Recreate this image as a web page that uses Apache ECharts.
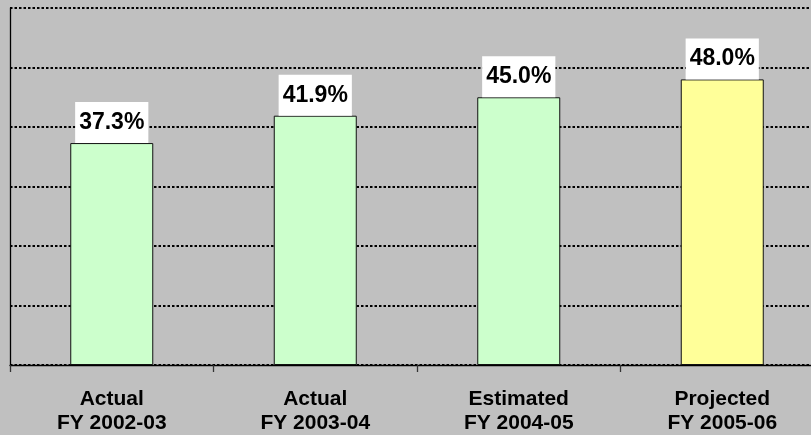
<!DOCTYPE html>
<html>
<head>
<meta charset="utf-8">
<script src="https://cdn.jsdelivr.net/npm/echarts@6/dist/echarts.min.js"></script>
<style>
html,body{margin:0;padding:0;background:#C0C0C0;overflow:hidden;width:811px;height:435px;}
#chart{width:830px;height:435px;}
</style>
</head>
<body>
<div id="chart"></div>
<script>
// Data
const stages = ['Actual', 'Actual', 'Estimated', 'Projected'];
const fiscalYears = ['FY 2002-03', 'FY 2003-04', 'FY 2004-05', 'FY 2005-06'];
const values = [37.3, 41.9, 45.0, 48.0];
const yTicks = [0, 10, 20, 30, 40, 50, 60];

const categories = stages.map((s, i) => s + '\n' + fiscalYears[i]);
const barColors = ['#CCFFCC', '#CCFFCC', '#CCFFCC', '#FFFF99'];

const chart = echarts.init(document.getElementById('chart'));
chart.setOption({
  backgroundColor: '#C0C0C0',
  animation: false,
  grid: { left: 10, top: 8, width: 814, height: 359, containLabel: false },
  xAxis: {
    type: 'category',
    data: categories,
    axisLine: { show: true, lineStyle: { color: '#000', width: 1.3 } },
    axisTick: { show: true, length: 7, lineStyle: { color: '#333', width: 1.3 } },
    axisLabel: {
      interval: 0,
      color: '#000',
      fontFamily: 'Liberation Sans, Arial, sans-serif',
      fontWeight: 'bold',
      fontSize: 21,
      lineHeight: 24,
      margin: 22
    }
  },
  yAxis: {
    type: 'value',
    min: yTicks[0],
    max: yTicks[yTicks.length - 1],
    interval: yTicks[1] - yTicks[0],
    axisLine: { show: true, lineStyle: { color: '#000', width: 1.3 } },
    axisTick: { show: false },
    axisLabel: { show: false },
    splitLine: { show: true, lineStyle: { color: '#000', width: 2, type: [2.5, 2] } }
  },
  series: [{
    type: 'bar',
    barWidth: 83,
    data: values.map((v, i) => ({ value: v, itemStyle: { color: barColors[i] } })),
    itemStyle: { borderColor: '#111', borderWidth: 1 },
    label: {
      show: true,
      position: 'top',
      distance: 0,
      formatter: p => p.value.toFixed(1) + '%',
      backgroundColor: '#FFFFFF',
      padding: [9, 4, 9, 4],
      color: '#000',
      fontFamily: 'Liberation Sans, Arial, sans-serif',
      fontWeight: 'bold',
      fontSize: 23,
      lineHeight: 23
    }
  }]
});
</script>
</body>
</html>
